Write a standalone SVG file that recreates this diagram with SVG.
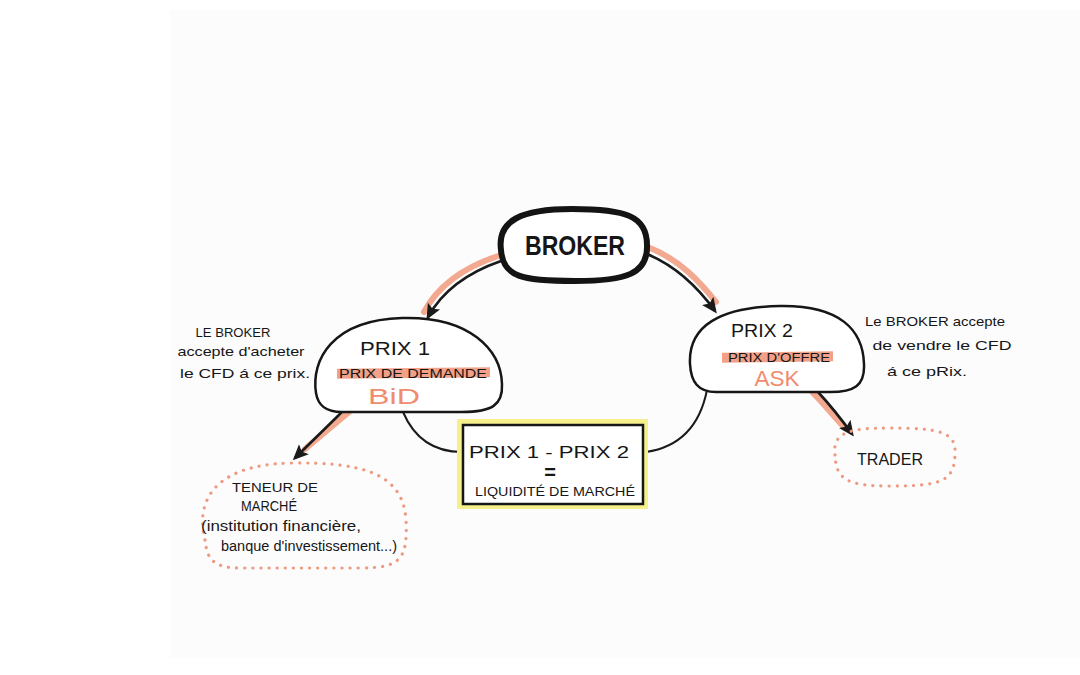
<svg xmlns="http://www.w3.org/2000/svg" width="1080" height="675" viewBox="0 0 1080 675">
<defs>
<marker id="ah" viewBox="0 0 10 10" refX="8" refY="5" markerWidth="6" markerHeight="6" orient="auto" markerUnits="strokeWidth">
<path d="M0,0.5 L10,5 L0,9.5 L2,5 Z" fill="#1a1a1a"/>
</marker>
<style>
.bg{fill:#ffffff}
.paper{fill:#fcfcfd}
.node{fill:#ffffff;stroke:#161616;stroke-width:2.5}
.thick{fill:#ffffff;stroke:#141414;stroke-width:6}
.dot{fill:none;stroke:#ee9a80;stroke-width:3.2;stroke-linecap:round;stroke-dasharray:0.1 8}
.under{fill:none;stroke:#f2a98f;stroke-width:6;stroke-linecap:round}
.arr{fill:none;stroke:#1a1a1a;stroke-width:2.6;marker-end:url(#ah)}
.link{fill:none;stroke:#1a1a1a;stroke-width:2}
.bar{fill:#f2a188}
.t{font-family:"Liberation Sans",Arial,sans-serif;fill:#161616}
.o{font-family:"Liberation Sans",Arial,sans-serif;fill:#f08c6e}
</style>
</defs>
<rect class="bg" x="0" y="0" width="1080" height="675"/>
<rect class="paper" x="170" y="10" width="910" height="648"/>

<g id="connectors">
<path class="under" d="M498,256 C468,266 440,282 424,312"/>
<path class="arr" d="M501,261 C472,271 444,288 428,317"/>
<path class="under" d="M650,248 C680,260 700,282 716,302"/>
<path class="arr" d="M647,254 C676,266 697,286 715,311"/>
<path class="under" d="M349,412 L305,449"/>
<path class="arr" d="M344,410 L295,458"/>
<path class="under" d="M813,393 C825,405 835,418 845,428"/>
<path class="arr" d="M818,392 C830,405 842,420 852,434"/>
<path class="link" d="M403,412 C415,440 435,452 462,452"/>
<path class="link" d="M707,390 C700,425 680,447 646,452"/>
</g>

<g id="broker">
<path class="thick" d="M501,250 C497,220 522,209 572,209 C626,209 647,216 647,245 C648,274 626,281 575,281 C522,281 503,277 501,250 Z"/>
<text class="t" x="575" y="255" font-size="27" font-weight="bold" text-anchor="middle" textLength="100" lengthAdjust="spacingAndGlyphs">BROKER</text>
</g>

<g id="prix1">
<path class="node" d="M316,393 C311,360 332,320 402,318 C470,316 501,350 502,384 C503,405 492,412 462,412 L342,412 C325,412 318,405 316,393 Z"/>
<text class="t" x="395" y="355" font-size="18" text-anchor="middle" textLength="70" lengthAdjust="spacingAndGlyphs">PRIX 1</text>
<rect class="bar" x="337" y="368" width="153" height="10" transform="rotate(-0.5 413 373)"/>
<text class="t" x="413" y="378" font-size="12" text-anchor="middle" textLength="148" lengthAdjust="spacingAndGlyphs">PRIX DE DEMANDE</text>
<text class="o" x="394" y="404" font-size="22" text-anchor="middle" textLength="52" lengthAdjust="spacingAndGlyphs">BiD</text>
</g>

<g id="prix2">
<path class="node" d="M690,364 C688,326 720,307 780,306 C840,305 863,330 864,364 C865,386 854,392 830,392 L716,392 C698,392 691,382 690,364 Z"/>
<text class="t" x="762" y="337" font-size="18" text-anchor="middle" textLength="62" lengthAdjust="spacingAndGlyphs">PRIX 2</text>
<rect class="bar" x="722" y="352" width="111" height="10" transform="rotate(-0.8 777 357)"/>
<text class="t" x="779" y="362" font-size="12" text-anchor="middle" textLength="102" lengthAdjust="spacingAndGlyphs">PRIX D'OFFRE</text>
<text class="o" x="777" y="386" font-size="22" text-anchor="middle" textLength="45" lengthAdjust="spacingAndGlyphs">ASK</text>
</g>

<g id="liquidite">
<rect x="457" y="419" width="191" height="90" fill="#f6f08c"/>
<rect x="463" y="425" width="180" height="79" fill="#ffffff" stroke="#161616" stroke-width="2.5"/>
<text class="t" x="549" y="458" font-size="17" text-anchor="middle" textLength="160" lengthAdjust="spacingAndGlyphs">PRIX 1 - PRIX 2</text>
<text class="t" x="550" y="479" font-size="20" font-weight="bold" text-anchor="middle">=</text>
<text class="t" x="555" y="496" font-size="13" text-anchor="middle" textLength="160" lengthAdjust="spacingAndGlyphs">LIQUIDITÉ DE MARCHÉ</text>
</g>

<g id="teneur">
<path class="dot" d="M205,540 C195,500 215,465 290,463 C360,462 403,472 406,520 C408,560 400,568 360,568 L240,568 C212,568 207,558 205,540 Z"/>
<text class="t" x="275" y="492" font-size="13" text-anchor="middle" textLength="86" lengthAdjust="spacingAndGlyphs">TENEUR DE</text>
<text class="t" x="269" y="511" font-size="14" text-anchor="middle" textLength="56" lengthAdjust="spacingAndGlyphs">MARCHÉ</text>
<text class="t" x="281" y="531" font-size="14" text-anchor="middle" textLength="160" lengthAdjust="spacingAndGlyphs">(institution financière,</text>
<text class="t" x="309" y="551" font-size="14" text-anchor="middle" textLength="176" lengthAdjust="spacingAndGlyphs">banque d'investissement...)</text>
</g>

<g id="trader">
<path class="dot" d="M835,455 C832,432 850,428 890,428 C940,428 957,432 955,455 C954,482 940,486 890,486 C848,486 836,480 835,455 Z"/>
<text class="t" x="890" y="465" font-size="16" text-anchor="middle" textLength="66" lengthAdjust="spacingAndGlyphs">TRADER</text>
</g>

<g id="note-left">
<text class="t" x="233" y="337" font-size="12" text-anchor="middle" textLength="75" lengthAdjust="spacingAndGlyphs">LE BROKER</text>
<text class="t" x="241" y="356" font-size="13" text-anchor="middle" textLength="127" lengthAdjust="spacingAndGlyphs">accepte d'acheter</text>
<text class="t" x="245" y="378" font-size="13" text-anchor="middle" textLength="130" lengthAdjust="spacingAndGlyphs">le CFD á ce prix.</text>
</g>

<g id="note-right">
<text class="t" x="935" y="326" font-size="13" text-anchor="middle" textLength="140" lengthAdjust="spacingAndGlyphs">Le BROKER accepte</text>
<text class="t" x="942" y="350" font-size="13" text-anchor="middle" textLength="139" lengthAdjust="spacingAndGlyphs">de vendre le CFD</text>
<text class="t" x="927" y="376" font-size="13" text-anchor="middle" textLength="80" lengthAdjust="spacingAndGlyphs">á ce pRix.</text>
</g>
</svg>
